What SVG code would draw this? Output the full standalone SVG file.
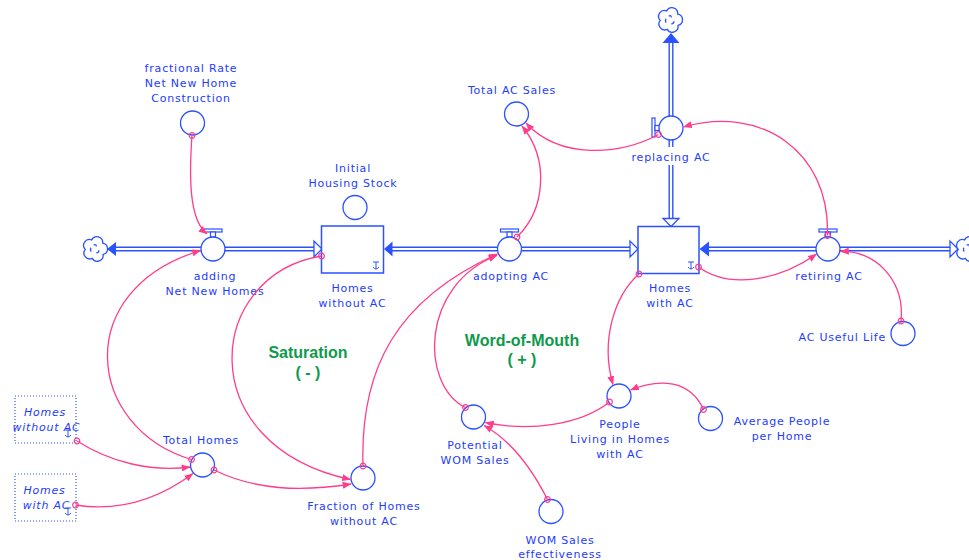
<svg xmlns="http://www.w3.org/2000/svg" width="969" height="560" viewBox="0 0 969 560">
<style>
.t{font-family:"DejaVu Sans",sans-serif;font-size:11px;fill:#1e3cff;text-anchor:middle;letter-spacing:0.8px}
.ti{font-style:italic}
.g{font-family:"Liberation Sans",Arial,sans-serif;font-size:16px;font-weight:bold;fill:#0f9a4b;text-anchor:middle}
.aux{fill:#fff;stroke:#2a52ff;stroke-width:1.3}
.stock{fill:#fff;stroke:#2a52ff;stroke-width:1.5}
.ghost{fill:#fff;stroke:#2a52ff;stroke-width:1.2;stroke-dasharray:1 2}
.po{fill:none;stroke:#2a52ff;stroke-width:5}
.pi{fill:none;stroke:#fff;stroke-width:2.2}
.ah{fill:#2a52ff}
.ao{fill:#fff;stroke:#2a52ff;stroke-width:1.3}
.valve{fill:#fff;stroke:#2a52ff;stroke-width:1.2}
.c{fill:none;stroke:#ff3d8b;stroke-width:1.3;marker-start:url(#o);marker-end:url(#a)}
.cl{fill:#fff;stroke:#2a52ff;stroke-width:1}
.ic{fill:none;stroke:#2a52ff;stroke-width:1}
</style>
<defs>
<marker id="a" viewBox="0 0 10 8" refX="9.5" refY="4" markerWidth="9" markerHeight="7" markerUnits="userSpaceOnUse" orient="auto"><path d="M0,0 L10,4 L0,8 z" fill="#ff3d8b"/></marker>
<marker id="o" viewBox="-4 -4 8 8" refX="0" refY="0" markerWidth="8" markerHeight="8" markerUnits="userSpaceOnUse"><circle r="2.8" fill="none" stroke="#ff3d8b" stroke-width="1.2"/></marker>
<g id="cloud" transform="scale(1.3)">
<path class="cl" d="M-2.6,-7 A4.5,4.5 0 0 1 5.9,-4.6 A4.5,4.5 0 0 1 6.2,4.2 A4.5,4.5 0 0 1 -2.1,7.2 A4.5,4.5 0 0 1 -7.5,0.3 A4.5,4.5 0 0 1 -2.6,-7 Z"/>
<path class="ic" d="M-1,-3 q2,-1 2,1 M3,1 q0,2 -2,2 M-3,2 q-1,-2 0,-3"/>
</g>
<path id="tick" class="ic" d="M-3,-4 h6 M0,-4 v7 M-3,1 q3,4 6,0"/>
</defs>

<g id="flows">
<path class="po" d="M201,249 H115"/><path class="pi" d="M201,249 H115"/>
<polygon class="ah" points="107,249 116,242 116,256"/>
<path class="po" d="M225,249 H315"/><path class="pi" d="M225,249 H315"/>
<polygon class="ao" points="322,249 314,241 314,257"/>
<path class="po" d="M497.5,249 H391"/><path class="pi" d="M497.5,249 H391"/>
<polygon class="ah" points="384,249 392.5,241.5 392.5,256.5"/>
<path class="po" d="M521.5,249 H631"/><path class="pi" d="M521.5,249 H631"/>
<polygon class="ao" points="638,249 630,241 630,257"/>
<path class="po" d="M816,249 H708"/><path class="pi" d="M816,249 H708"/>
<polygon class="ah" points="699.5,249 709,241.5 709,256.5"/>
<path class="po" d="M840,249 H951"/><path class="pi" d="M840,249 H951"/>
<polygon class="ao" points="958,249 950,241 950,257"/>
<path class="po" d="M671,116 V42"/><path class="pi" d="M671,116 V42"/>
<polygon class="ah" points="671,33 662.5,43 679.5,43"/>
<path class="po" d="M671,140 V147 M671,165 V220"/><path class="pi" d="M671,140 V147 M671,165 V220"/>
<polygon class="ao" points="671,226.5 663,218.5 679,218.5"/>
<use href="#cloud" x="95" y="249"/>
<use href="#cloud" x="670" y="20"/>
<use href="#cloud" x="968" y="249"/>
</g>

<g id="homes-without-ac">
<rect class="stock" x="321.5" y="226" width="62" height="47"/>
<use href="#tick" x="376" y="266"/>
<text class="t" x="352.5" y="292">Homes</text>
<text class="t" x="352.5" y="307">without AC</text>
</g>
<g id="homes-with-ac">
<rect class="stock" x="638" y="226.5" width="61" height="47"/>
<use href="#tick" x="691" y="266"/>
<text class="t" x="670" y="291.5">Homes</text>
<text class="t" x="670" y="306.5">with AC</text>
</g>
<g id="adding-net-new-homes">
<rect class="valve" x="204" y="229" width="18" height="3"/>
<rect class="valve" x="210.5" y="232" width="5" height="5"/>
<circle class="aux" cx="213" cy="249" r="12"/>
<text class="t" x="215" y="280">adding</text>
<text class="t" x="215" y="295">Net New Homes</text>
</g>
<g id="adopting-ac">
<rect class="valve" x="500.5" y="229" width="18" height="3"/>
<rect class="valve" x="507" y="232" width="5" height="5"/>
<circle class="aux" cx="509.5" cy="249" r="12"/>
<text class="t" x="511" y="280">adopting AC</text>
</g>
<g id="retiring-ac">
<rect class="valve" x="819" y="229" width="18" height="3"/>
<rect class="valve" x="825.5" y="232" width="5" height="5"/>
<circle class="aux" cx="828" cy="249" r="12"/>
<text class="t" x="829" y="280">retiring AC</text>
</g>
<g id="replacing-ac">
<rect class="valve" x="652" y="118" width="3" height="19"/>
<rect class="valve" x="655" y="125.5" width="4.5" height="5"/>
<circle class="aux" cx="671" cy="128" r="12"/>
<text class="t" x="671" y="161">replacing AC</text>
</g>
<g id="fractional-rate">
<circle class="aux" cx="192.5" cy="123" r="12"/>
<text class="t" x="191" y="71.5">fractional Rate</text>
<text class="t" x="191" y="86.5">Net New Home</text>
<text class="t" x="191" y="101.5">Construction</text>
</g>
<g id="initial-housing-stock">
<circle class="aux" cx="355" cy="207.5" r="12"/>
<text class="t" x="353" y="171.5">Initial</text>
<text class="t" x="353" y="186.5">Housing Stock</text>
</g>
<g id="total-ac-sales">
<circle class="aux" cx="516.5" cy="114" r="12"/>
<text class="t" x="512" y="94">Total AC Sales</text>
</g>
<g id="ac-useful-life">
<circle class="aux" cx="903" cy="333.5" r="12"/>
<text class="t" x="886" y="341" style="text-anchor:end">AC Useful Life</text>
</g>
<g id="total-homes">
<circle class="aux" cx="202.5" cy="465" r="12"/>
<text class="t" x="201" y="443.5">Total Homes</text>
</g>
<g id="ghost-homes-without-ac">
<rect class="ghost" x="15" y="396" width="61" height="47"/>
<use href="#tick" x="68" y="434"/>
<text class="t ti" x="45" y="416">Homes</text>
<text class="t ti" x="46.5" y="431">without AC</text>
</g>
<g id="ghost-homes-with-ac">
<rect class="ghost" x="15" y="474" width="61" height="47"/>
<use href="#tick" x="68" y="512"/>
<text class="t ti" x="44.5" y="494">Homes</text>
<text class="t ti" x="46.5" y="509">with AC</text>
</g>
<g id="fraction-of-homes-without-ac">
<circle class="aux" cx="363" cy="478" r="12"/>
<text class="t" x="364" y="510">Fraction of Homes</text>
<text class="t" x="364" y="525">without AC</text>
</g>
<g id="potential-wom-sales">
<circle class="aux" cx="473.5" cy="417" r="12"/>
<text class="t" x="475" y="449">Potential</text>
<text class="t" x="475" y="464">WOM Sales</text>
</g>
<g id="wom-sales-effectiveness">
<circle class="aux" cx="551" cy="511.5" r="12"/>
<text class="t" x="560" y="544">WOM Sales</text>
<text class="t" x="560" y="558">effectiveness</text>
</g>
<g id="people-living-in-homes-with-ac">
<circle class="aux" cx="619" cy="396" r="12"/>
<text class="t" x="620" y="427.5">People</text>
<text class="t" x="620" y="442.5">Living in Homes</text>
<text class="t" x="620" y="457.5">with AC</text>
</g>
<g id="average-people-per-home">
<circle class="aux" cx="710.5" cy="418.5" r="12"/>
<text class="t" x="782" y="424.5">Average People</text>
<text class="t" x="782" y="439.5">per Home</text>
</g>
<g id="loop-saturation">
<text class="g" x="308" y="358">Saturation</text>
<text class="g" x="308" y="378">( - )</text>
</g>
<g id="loop-word-of-mouth">
<text class="g" x="522" y="346">Word-of-Mouth</text>
<text class="g" x="522" y="365">( + )</text>
</g>

<g id="connectors">
<path class="c" d="M192,135.5 C188,190 192,222 207,234"/>
<path class="c" d="M191.5,459.5 C86,428 70,290 200.5,250.5"/>
<path class="c" d="M321.5,256 C205,275 190,445 350.5,479.5"/>
<path class="c" d="M214,470 C255,490 300,492 351,484"/>
<path class="c" d="M77,441 C110,462 150,472 190,467"/>
<path class="c" d="M75.5,505 C120,512 160,498 193,473.5"/>
<path class="c" d="M363,466 C360,370 395,300 497.5,254"/>
<path class="c" d="M465.5,407.5 C420,385 420,285 497,255.5"/>
<path class="c" d="M517,237 C545,210 550,160 522,126"/>
<path class="c" d="M658.5,134.5 C620,155 560,160 526,123"/>
<path class="c" d="M827.5,235.5 C830,150 760,105 683.5,127"/>
<path class="c" d="M698.5,267 C730,290 780,280 816.5,254"/>
<path class="c" d="M901,321 C905,280 875,250 840.5,251.5"/>
<path class="c" d="M639,274 C615,295 600,340 613,384.5"/>
<path class="c" d="M703.5,409.5 C690,380 660,378 630.5,390"/>
<path class="c" d="M609.5,402 C580,425 530,432 485.5,422.5"/>
<path class="c" d="M547.5,499.5 C530,465 510,440 484,425.5"/>
</g>
</svg>
